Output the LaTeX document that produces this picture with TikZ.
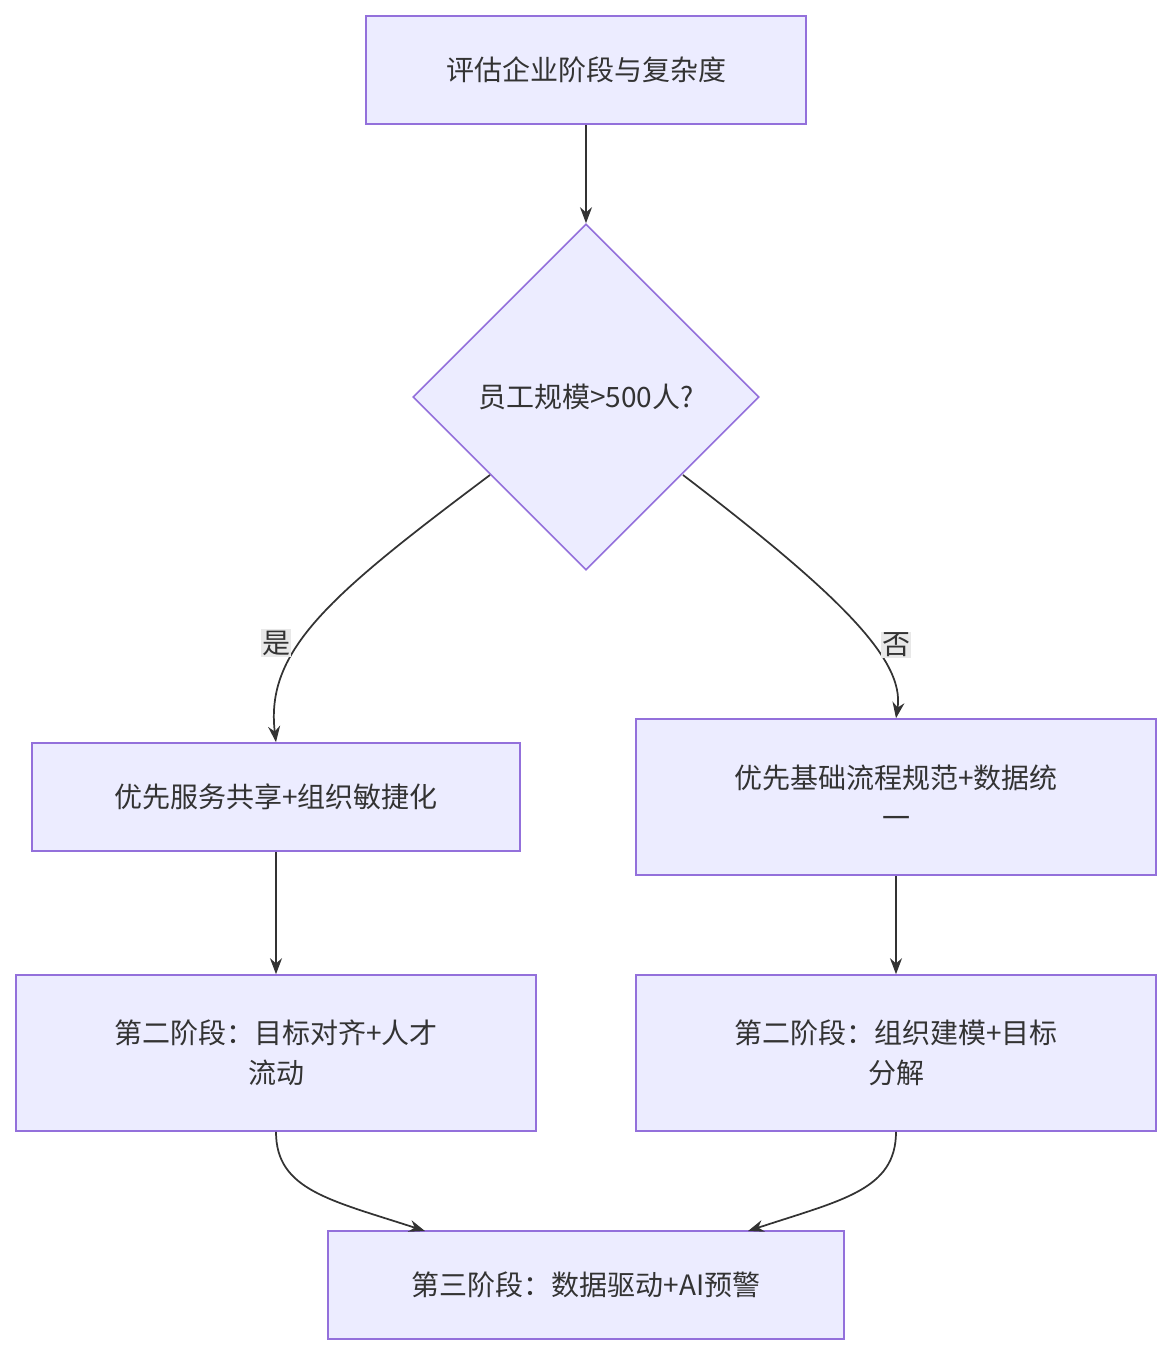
\documentclass[tikz,border=0pt]{standalone}
\usepackage{fontspec}
\newfontfamily\cjk{Noto Sans CJK SC}
\usetikzlibrary{shapes.geometric,arrows.meta}
\definecolor{nf}{HTML}{ECECFF}
\definecolor{ns}{HTML}{9370DB}
\definecolor{tx}{HTML}{333333}
\definecolor{lb}{HTML}{E8E8E8}
\begin{document}
\begin{tikzpicture}[x=0.75pt,y=-0.75pt,
 box/.style={draw=ns,fill=nf,line width=1.2pt,text=tx,font=\cjk\fontsize{21}{30}\selectfont,align=center,inner sep=0pt},
 lab/.style={fill=lb,text=tx,font=\cjk\fontsize{21}{26}\selectfont,inner sep=1pt},
 ar/.style={draw=tx,line width=1.3pt,-{Stealth[length=12pt,width=9pt]}}]
\useasboundingbox (0,0) rectangle (1172,1354);
\node[box,minimum width=440*0.75pt,minimum height=108*0.75pt] (A) at (586,70) {评估企业阶段与复杂度};
\node[box,diamond,aspect=1,minimum width=346*0.75pt,minimum height=346*0.75pt] (D) at (586,397) {员工规模>500人?};
\node[box,minimum width=488*0.75pt,minimum height=108*0.75pt] (B) at (276,797) {优先服务共享+组织敏捷化};
\node[box,minimum width=520*0.75pt,minimum height=156*0.75pt] (C) at (896,797) {优先基础流程规范+数据统\\一};
\node[box,minimum width=520*0.75pt,minimum height=156*0.75pt] (E) at (276,1053) {第二阶段：目标对齐+人才\\流动};
\node[box,minimum width=520*0.75pt,minimum height=156*0.75pt] (F) at (896,1053) {第二阶段：组织建模+目标\\分解};
\node[box,minimum width=516*0.75pt,minimum height=108*0.75pt] (G) at (586,1285) {第三阶段：数据驱动+AI预警};
\coordinate (d1) at (490,475);
\coordinate (d2) at (683,475);
\draw[ar] (A) -- (D);
\draw[ar] (d1) .. controls (330,595) and (265,650) .. (B.north);
\draw[ar] (d2) .. controls (840,595) and (905,660) .. ([xshift=0pt]C.north);
\node[lab] (L1) at (276,643) {是};
\node[lab] (L2) at (896,645) {否};
\draw[ar] (B) -- (E);
\draw[ar] (C) -- (F);
\draw[ar] (E.south) .. controls (276,1190) and (330,1200) .. (425,1231);
\draw[ar] (F.south) .. controls (896,1190) and (842,1200) .. (748,1231);
\end{tikzpicture}
\end{document}
